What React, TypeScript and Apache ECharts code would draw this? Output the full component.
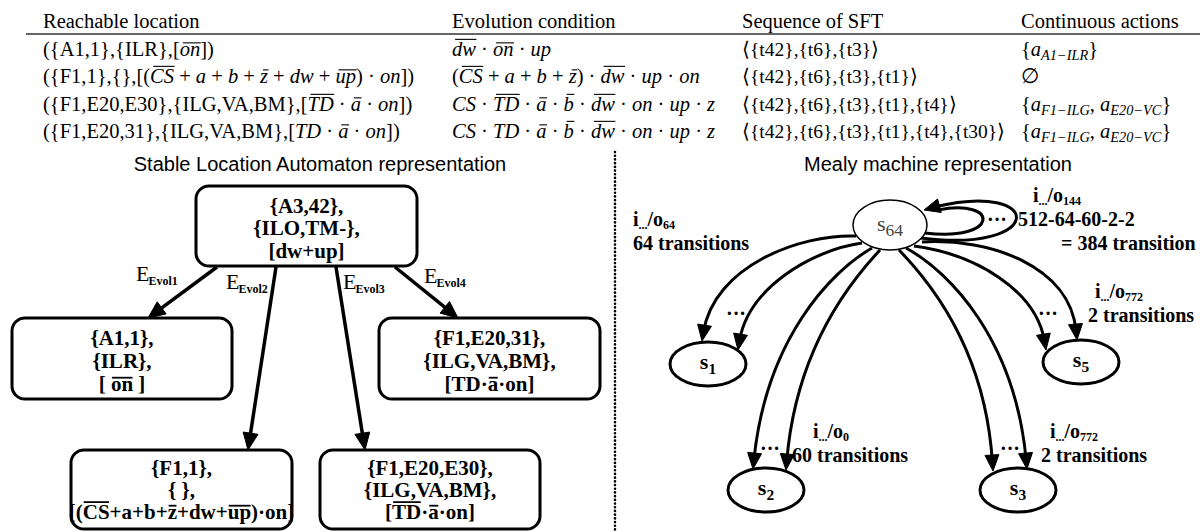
import React, { useEffect, useRef } from "react";
import * as echarts from "echarts";

// ---------------- content (text data) ----------------
const tableHeaders = ["Reachable location", "Evolution condition", "Sequence of SFT", "Continuous actions"];
// markup: ~x~ overlined (italic in table), *x* italic math, _x_ subscript
const reachableLocations = [
  "({A1,1},{ILR},[~on~])",
  "({F1,1},{},[(~CS~ + *a* + *b* + ~z~ + *dw* + ~up~) · *on*])",
  "({F1,E20,E30},{ILG,VA,BM},[~TD~ · ~a~ · *on*])",
  "({F1,E20,31},{ILG,VA,BM},[*TD* · ~a~ · *on*])",
];
const evolutionConditions = [
  "~dw~ · ~on~ · *up*",
  "(~CS~ + *a* + *b* + ~z~) · ~dw~ · *up* · *on*",
  "*CS* · ~TD~ · ~a~ · ~b~ · ~dw~ · *on* · *up* · *z*",
  "*CS* · *TD* · ~a~ · ~b~ · ~dw~ · *on* · *up* · *z*",
];
const sftSequences = [
  "⟨{t42},{t6},{t3}⟩",
  "⟨{t42},{t6},{t3},{t1}⟩",
  "⟨{t42},{t6},{t3},{t1},{t4}⟩",
  "⟨{t42},{t6},{t3},{t1},{t4},{t30}⟩",
];
const continuousActions = [
  "{*a*_A1−ILR_}",
  "∅",
  "{*a*_F1−ILG_, *a*_E20−VC_}",
  "{*a*_F1−ILG_, *a*_E20−VC_}",
];

const diagramTitles = ["Stable Location Automaton representation", "Mealy machine representation"];
const rootLocation = ["{A3,42},", "{ILO,TM-},", "[dw+up]"];
const childLocations = [
  ["{A1,1},", "{ILR},", "[ ~on~ ]"],
  ["{F1,1},", "{ },", "[(~CS~+a+b+~z~+dw+~up~)·on]"],
  ["{F1,E20,E30},", "{ILG,VA,BM},", "[~TD~·~a~·on]"],
  ["{F1,E20,31},", "{ILG,VA,BM},", "[TD·~a~·on]"],
];
const evolutionEdges = ["Evol1", "Evol2", "Evol3", "Evol4"];

const mealyStates = ["s_64_", "s_1_", "s_2_", "s_3_", "s_5_"];
const mealyInputOutputs = ["i_..._/o_144_", "i_..._/o_64_", "i_..._/o_0_", "i_..._/o_772_", "i_..._/o_772_"];
const mealyCounts = ["512-64-60-2-2", "64 transitions", "60 transitions", "2 transitions", "2 transitions"];
const loopTotal = "= 384 transition";

// ---------------- layout ----------------
const SERIF = "Liberation Serif";
const SANS = "Liberation Sans";
const TABLE_FS = 20.5;
const colX = [43, 452, 742, 1021];
const colFS = [20.5, 20.5, 19.5, 20.5];
const headerY = 21;
const ruleY = 34;
const rowY = [49, 76, 104, 131];

const titlePos = [[320, 164], [938, 164]];
const rootBox = { x: 196, y: 186, w: 221, h: 80, lines: [206, 228, 251] };
const childBoxes = [
  { x: 12, y: 318, w: 220, h: 81, lines: [338, 361, 384] },
  { x: 71, y: 450, w: 221, h: 79, lines: [468, 490, 512] },
  { x: 320, y: 450, w: 220, h: 79, lines: [468, 490, 512] },
  { x: 379, y: 318, w: 221, h: 81, lines: [338, 361, 384] },
];
const edgeStarts = [[217, 267], [276, 267], [336, 267], [395, 267]];
const edgeTips = [[148, 318], [248, 450], [365, 450], [458, 318]];
const edgeLabelPos = [[136, 273], [226, 281], [343, 281], [424, 275]];

const separatorX = 615;

const statePos = [
  [890, 225, 37, 25],
  [708, 364, 38, 22],
  [766, 490, 38, 22],
  [1018, 490, 38, 22],
  [1081, 362, 38, 22],
];
// cubic curves: start, cp1, cp2, tip
const mealyCurves = [
  [[856, 236], [800, 234], [714, 266], [702, 341]],
  [[862, 243], [812, 250], [748, 288], [738, 350]],
  [[872, 248], [830, 272], [766, 340], [753, 469]],
  [[880, 250], [850, 282], [796, 350], [786, 470]],
  [[899, 250], [930, 282], [985, 350], [993, 471]],
  [[906, 248], [950, 272], [1015, 340], [1027, 469]],
  [[914, 246], [975, 254], [1036, 290], [1046, 350]],
  [[922, 242], [990, 238], [1070, 266], [1077, 340]],
];
const loopCurves = [
  [[921, 238], [1046, 254], [1046, 180], [934, 207]],
  [[925, 233], [1000, 242], [1000, 198], [938, 210]],
];
const loopTip = [924, 210];
const dotsPos = [[997, 219], [736, 313], [770, 448], [1010, 448], [1048, 313]];
const labelPos = [
  [[1033, 195], [1018, 219]],
  [[633, 219], [633, 243]],
  [[813, 431], [792, 455]],
  [[1050, 431], [1041, 455]],
  [[1095, 291], [1088, 315]],
];
const loopTotalPos = [1061, 243];

// ---------------- helpers ----------------
let measureCtx: CanvasRenderingContext2D | null = null;
function textWidth(t: string, font: string): number {
  if (!measureCtx) measureCtx = document.createElement("canvas").getContext("2d");
  measureCtx!.font = font;
  return measureCtx!.measureText(t).width;
}

type Seg = { t: string; mark: boolean; ov: boolean; sub: boolean };
function parseMarkup(s: string): Seg[] {
  const out: Seg[] = [];
  let buf = "";
  let i = 0;
  const flush = () => {
    if (buf) out.push({ t: buf, mark: false, ov: false, sub: false });
    buf = "";
  };
  while (i < s.length) {
    const c = s[i];
    if (c === "~" || c === "*" || c === "_") {
      const j = s.indexOf(c, i + 1);
      flush();
      out.push({ t: s.slice(i + 1, j), mark: true, ov: c === "~", sub: c === "_" });
      i = j + 1;
    } else {
      buf += c;
      i++;
    }
  }
  flush();
  return out;
}

interface RichOpts {
  size: number;
  family: string;
  bold?: boolean;
  italicMarks?: boolean;
  align?: "left" | "center";
  fill?: string;
  subScale?: number;
  subDy?: number;
  subBold?: boolean;
}

function textEl(text: string, x: number, y: number, size: number, family: string, bold: boolean, italic: boolean, fill: string, align = "left"): any {
  return {
    type: "text",
    x,
    y,
    silent: true,
    style: {
      text,
      fill,
      fontSize: size,
      fontFamily: family,
      fontWeight: bold ? "bold" : "normal",
      fontStyle: italic ? "italic" : "normal",
      textAlign: align,
      textVerticalAlign: "middle",
    },
  };
}

function richText(str: string, x: number, y: number, o: RichOpts): any[] {
  const segs = parseMarkup(str);
  const subScale = o.subScale ?? 0.66;
  const items = segs.map((s) => {
    const size = s.sub ? o.size * subScale : o.size;
    const italic = !!o.italicMarks && s.mark;
    const bold = s.sub && o.subBold !== undefined ? o.subBold : !!o.bold;
    const font = `${italic ? "italic" : "normal"} ${bold ? "bold" : "normal"} ${size}px ${o.family}`;
    return { ...s, size, italic, bold, w: textWidth(s.t, font) };
  });
  const total = items.reduce((a, b) => a + b.w, 0);
  let cx = o.align === "center" ? x - total / 2 : x;
  const fill = o.fill ?? "#000";
  const out: any[] = [];
  for (const it of items) {
    const ty = it.sub ? y + o.size * (o.subDy ?? 0.3) : y;
    out.push(textEl(it.t, cx, ty, it.size, o.family, it.bold, it.italic, fill));
    if (it.ov) {
      const tall = /[A-Zbdfhklt]/.test(it.t);
      const oy = y - o.size * (tall ? 0.47 : 0.3);
      const skew = it.italic ? o.size * 0.1 : 0;
      out.push({
        type: "line",
        silent: true,
        shape: { x1: cx + 1 + skew, y1: oy, x2: cx + it.w - 0.5 + skew * 0.5, y2: oy },
        style: { stroke: fill, lineWidth: o.bold ? 1.8 : 1.1 },
      });
    }
    cx += it.w;
  }
  return out;
}

function arrowHead(tip: number[], from: number[], len = 16, half = 7): any {
  const dx = tip[0] - from[0];
  const dy = tip[1] - from[1];
  const d = Math.hypot(dx, dy) || 1;
  const ux = dx / d;
  const uy = dy / d;
  const bx = tip[0] - ux * len;
  const by = tip[1] - uy * len;
  return {
    type: "polygon",
    silent: true,
    shape: { points: [[tip[0], tip[1]], [bx - uy * half, by + ux * half], [bx + uy * half, by - ux * half]] },
    style: { fill: "#000", stroke: "#000", lineWidth: 1 },
  };
}

function straightArrow(from: number[], tip: number[]): any[] {
  const dx = tip[0] - from[0];
  const dy = tip[1] - from[1];
  const d = Math.hypot(dx, dy);
  const ex = tip[0] - (dx / d) * 10;
  const ey = tip[1] - (dy / d) * 10;
  return [
    { type: "line", silent: true, shape: { x1: from[0], y1: from[1], x2: ex, y2: ey }, style: { stroke: "#000", lineWidth: 3.5 } },
    arrowHead(tip, from, 17, 7.5),
  ];
}

function curve(c: number[][], lw = 3): any {
  return {
    type: "bezierCurve",
    silent: true,
    shape: { x1: c[0][0], y1: c[0][1], cpx1: c[1][0], cpy1: c[1][1], cpx2: c[2][0], cpy2: c[2][1], x2: c[3][0], y2: c[3][1] },
    style: { stroke: "#000", lineWidth: lw, fill: "none" },
  };
}

function curvedArrow(c: number[][]): any[] {
  const tip = c[3];
  const from = c[2];
  const dx = tip[0] - from[0];
  const dy = tip[1] - from[1];
  const d = Math.hypot(dx, dy);
  const end = [tip[0] - (dx / d) * 9, tip[1] - (dy / d) * 9];
  return [curve([c[0], c[1], c[2], end]), arrowHead(tip, from, 16, 7)];
}

function buildElements(): any[] {
  const els: any[] = [];

  // ---- table ----
  tableHeaders.forEach((h, i) => {
    els.push(textEl(h, colX[i], headerY, TABLE_FS, SERIF, false, false, "#000"));
  });
  els.push({ type: "line", silent: true, shape: { x1: 26, y1: ruleY, x2: 1200, y2: ruleY }, style: { stroke: "#333", lineWidth: 1.4 } });
  const cols = [reachableLocations, evolutionConditions, sftSequences, continuousActions];
  cols.forEach((col, ci) => {
    col.forEach((cell, ri) => {
      els.push(...richText(cell, colX[ci], rowY[ri], { size: colFS[ci], family: SERIF, italicMarks: true, subScale: 0.7, subDy: 0.28 }));
    });
  });

  // ---- titles ----
  diagramTitles.forEach((t, i) => {
    els.push(textEl(t, titlePos[i][0], titlePos[i][1], 20, SANS, false, false, "#000", "center"));
  });

  // ---- separator ----
  els.push({
    type: "line",
    silent: true,
    shape: { x1: separatorX, y1: 152, x2: separatorX, y2: 532 },
    style: { stroke: "#000", lineWidth: 2.6, lineDash: [0.1, 3.6], lineCap: "round" },
  });

  // ---- stable location automaton ----
  const boxStyle = { fill: "#fff", stroke: "#000", lineWidth: 3 };
  els.push({ type: "rect", silent: true, shape: { x: rootBox.x, y: rootBox.y, width: rootBox.w, height: rootBox.h, r: 13 }, style: boxStyle });
  rootLocation.forEach((line, li) => {
    els.push(...richText(line, rootBox.x + rootBox.w / 2, rootBox.lines[li], { size: 21, family: SERIF, bold: true, align: "center" }));
  });
  childBoxes.forEach((b, bi) => {
    els.push({ type: "rect", silent: true, shape: { x: b.x, y: b.y, width: b.w, height: b.h, r: 13 }, style: boxStyle });
    childLocations[bi].forEach((line, li) => {
      els.push(...richText(line, b.x + b.w / 2, b.lines[li], { size: 21, family: SERIF, bold: true, align: "center" }));
    });
  });
  edgeStarts.forEach((s, i) => {
    els.push(...straightArrow(s, edgeTips[i]));
    const [lx, ly] = edgeLabelPos[i];
    const ew = textWidth("E", `normal normal 22px ${SERIF}`);
    els.push(textEl("E", lx, ly, 22, SERIF, false, false, "#000"));
    els.push(textEl(evolutionEdges[i], lx + ew - 1, ly + 8, 12, SERIF, true, false, "#000"));
  });

  // ---- mealy machine ----
  mealyCurves.forEach((c) => els.push(...curvedArrow(c)));
  loopCurves.forEach((c) => els.push(curve(c, 3)));
  els.push(arrowHead(loopTip, [960, 200], 16, 7));

  statePos.forEach((p, i) => {
    els.push({
      type: "ellipse",
      silent: true,
      shape: { cx: p[0], cy: p[1], rx: p[2], ry: p[3] },
      style: { fill: "#fff", stroke: "#000", lineWidth: i === 0 ? 1.5 : 3 },
    });
    if (i === 0) {
      els.push(...richText(mealyStates[i], p[0], p[1] - 2, { size: 22, family: SERIF, align: "center", fill: "#444", subScale: 0.8, subDy: 0.33 }));
    } else {
      els.push(...richText(mealyStates[i], p[0], p[1] - 3, { size: 22, family: SERIF, bold: true, align: "center", subScale: 0.7, subDy: 0.36 }));
    }
  });

  dotsPos.forEach((d) => {
    els.push(textEl("···", d[0], d[1], 20, SERIF, true, false, "#000", "center"));
  });

  labelPos.forEach((lp, i) => {
    els.push(...richText(mealyInputOutputs[i], lp[0][0], lp[0][1], { size: 20, family: SERIF, bold: true, subScale: 0.6, subDy: 0.3 }));
    els.push(...richText(mealyCounts[i], lp[1][0], lp[1][1], { size: 20, family: SERIF, bold: true }));
  });
  els.push(...richText(loopTotal, loopTotalPos[0], loopTotalPos[1], { size: 20, family: SERIF, bold: true }));

  return els;
}

export default function App() {
  const ref = useRef<HTMLDivElement>(null);
  useEffect(() => {
    const chart = echarts.init(ref.current!, null, { renderer: "svg" });
    chart.setOption({ animation: false, backgroundColor: "#fff", graphic: buildElements() });
    return () => chart.dispose();
  }, []);
  return <div ref={ref} style={{ position: "absolute", left: 0, top: 0, width: 1200, height: 532, background: "#fff" }} />;
}
